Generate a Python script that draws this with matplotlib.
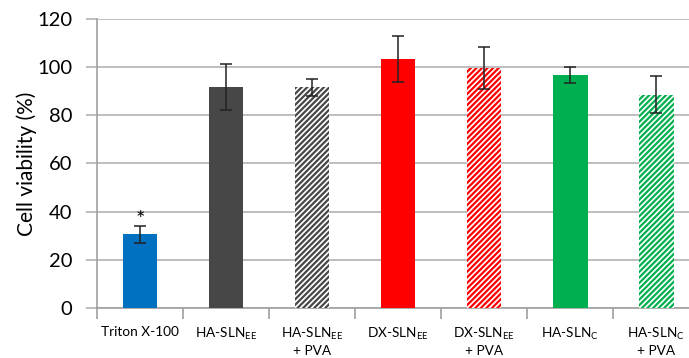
import numpy as np
import matplotlib.pyplot as plt

plt.rcParams['font.family'] = ['Lato', 'DejaVu Sans']
plt.rcParams['mathtext.fontset'] = 'custom'
plt.rcParams['mathtext.rm'] = 'Lato'

labels = ['Triton X-100', 'HA-SLN$_{\\mathregular{EE}}$',
          'HA-SLN$_{\\mathregular{EE}}$\n+ PVA', 'DX-SLN$_{\\mathregular{EE}}$',
          'DX-SLN$_{\\mathregular{EE}}$\n+ PVA', 'HA-SLN$_{\\mathregular{C}}$',
          'HA-SLN$_{\\mathregular{C}}$\n+ PVA']
viability = [30.5, 91.7, 91.6, 103.3, 99.8, 96.6, 88.6]
errors = [3.4, 9.5, 3.5, 9.6, 8.7, 3.3, 7.7]
colors = ['#0070C0', '#474747', '#474747', '#FF0000', '#FF0000', '#00B050', '#00B050']
hatched = [False, False, True, False, True, False, True]

fig = plt.figure(figsize=(6.89, 3.58), dpi=100)
ax = fig.add_axes([0.141, 0.1405, 0.874, 0.806])

x = np.arange(len(labels))
plt.rcParams['hatch.linewidth'] = 1.6
for i in range(len(labels)):
    if hatched[i]:
        ax.bar(x[i], viability[i], width=0.4, facecolor='white', edgecolor=colors[i],
               hatch='//////', linewidth=0, zorder=3)
    else:
        ax.bar(x[i], viability[i], width=0.4, color=colors[i], linewidth=0, zorder=3)
ax.errorbar(x, viability, yerr=errors, fmt='none', ecolor='#222222',
            elinewidth=1.1, capsize=4, capthick=1.1, zorder=4)
ax.text(0, viability[0] + errors[0] - 1.5, '*', ha='center', va='bottom', fontsize=16)

ax.set_xlim(-0.5, 6.5)
ax.set_ylim(0, 120)
ax.set_yticks(np.arange(0, 121, 20))
ax.tick_params(axis='y', labelsize=14.5, length=8, color='#b3b3b3', width=1.2, pad=10)
ax.grid(axis='y', color='#b3b3b3', linewidth=1.2, zorder=0)
ax.set_xticks(x)
ax.set_xticklabels(labels, fontsize=9.8, linespacing=1.25)
ax.tick_params(axis='x', length=0, pad=13)
ax.set_xticks(np.arange(-0.5, 7, 1), minor=True)
ax.tick_params(axis='x', which='minor', length=8, color='#a0a0a0', width=1.2)
for s in ['top', 'right']:
    ax.spines[s].set_visible(False)
for s in ['left', 'bottom']:
    ax.spines[s].set_color('#a0a0a0')
    ax.spines[s].set_linewidth(1.2)
ax.set_ylabel('Cell viability (%)', fontsize=15, labelpad=0)

fig.savefig('out.png', dpi=100)
